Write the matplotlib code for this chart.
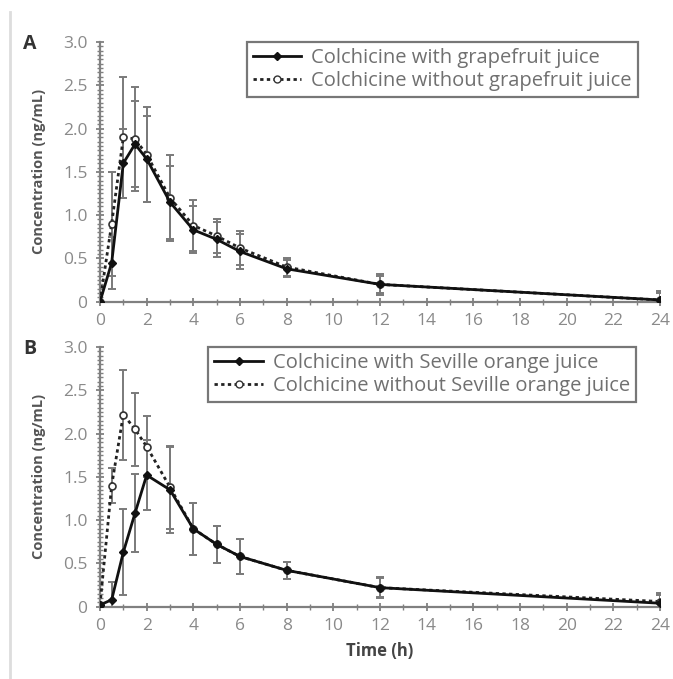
import matplotlib
matplotlib.use("Agg")
import matplotlib.pyplot as plt
from matplotlib.ticker import MultipleLocator, FixedLocator
from matplotlib.lines import Line2D

plt.rcParams['font.family'] = ['Open Sans', 'DejaVu Sans']

times = [0, 0.5, 1, 1.5, 2, 3, 4, 5, 6, 8, 12, 24]

# Panel A
gf_with = [0, 0.45, 1.6, 1.82, 1.65, 1.15, 0.83, 0.72, 0.58, 0.38, 0.2, 0.02]
gf_with_sd = [0, 0.3, 0.4, 0.5, 0.5, 0.42, 0.27, 0.2, 0.2, 0.1, 0.1, 0.08]
gf_without = [0, 0.9, 1.9, 1.88, 1.7, 1.2, 0.88, 0.76, 0.62, 0.4, 0.2, 0.02]
gf_without_sd = [0, 0.6, 0.7, 0.6, 0.55, 0.5, 0.3, 0.2, 0.2, 0.1, 0.12, 0.1]

# Panel B
so_with = [0.02, 0.08, 0.63, 1.08, 1.52, 1.35, 0.9, 0.72, 0.58, 0.42, 0.22, 0.04]
so_with_sd = [0, 0.2, 0.5, 0.45, 0.4, 0.5, 0.3, 0.21, 0.2, 0.1, 0.11, 0.1]
so_without = [0.02, 1.4, 2.22, 2.05, 1.85, 1.38, 0.9, 0.72, 0.58, 0.42, 0.22, 0.06]
so_without_sd = [0, 0.2, 0.52, 0.42, 0.35, 0.48, 0.3, 0.21, 0.2, 0.1, 0.12, 0.1]

labels_a = ["Colchicine with grapefruit juice", "Colchicine without grapefruit juice"]
labels_b = ["Colchicine with Seville orange juice", "Colchicine without Seville orange juice"]

xticks = list(range(0, 25, 2))
yticks = [0, 0.5, 1.0, 1.5, 2.0, 2.5, 3.0]
ytick_labels = ["0", "0.5", "1.0", "1.5", "2.0", "2.5", "3.0"]

W, H = 673, 679
fig = plt.figure(figsize=(W / 100, H / 100), dpi=100)

gray = "#808080"
txt = "#8a8a8a"

def px(x0, y0, x1, y1):
    return [x0 / W, 1 - y1 / H, (x1 - x0) / W, (y1 - y0) / H]

def panel(rect, y1, s1, y2, s2, labels, legend_bbox):
    ax = fig.add_axes(rect)
    ax.errorbar(times, y2, yerr=s2, fmt='none', ecolor="#7a7a7a", elinewidth=1.4,
                capsize=3, capthick=1.4, zorder=2)
    ax.errorbar(times, y1, yerr=s1, fmt='none', ecolor="#7a7a7a", elinewidth=1.4,
                capsize=3, capthick=1.4, zorder=2)
    ax.plot(times, y2, linestyle=(0, (1.2, 1.2)), color="#222222", lw=2,
            marker='o', ms=5, mfc='white', mec="#333333", mew=1.2, zorder=3)
    ax.plot(times, y1, linestyle='-', color="#111111", lw=2,
            marker='D', ms=4, mfc="#111111", mec="#111111", zorder=4)
    ax.set_xlim(0, 24)
    ax.set_ylim(0, 3.0)
    ax.xaxis.set_major_locator(FixedLocator(xticks))
    ax.xaxis.set_minor_locator(MultipleLocator(1))
    ax.yaxis.set_major_locator(FixedLocator(yticks))
    ax.yaxis.set_minor_locator(MultipleLocator(0.05))
    ax.set_yticklabels(ytick_labels)
    ax.set_xticklabels([str(t) for t in xticks])
    for s in ['top', 'right']:
        ax.spines[s].set_visible(False)
    for s in ['left', 'bottom']:
        ax.spines[s].set_color(gray)
        ax.spines[s].set_linewidth(1.6)
    ax.tick_params(which='major', direction='inout', length=6, width=1.3, color=gray,
                   labelcolor=txt, labelsize=12.5)
    ax.tick_params(which='minor', direction='inout', length=4, width=1.0, color=gray)
    ax.tick_params(axis='x', which='major', pad=5)
    ax.tick_params(axis='y', which='major', pad=6)
    ax.set_ylabel("Concentration (ng/mL)", fontsize=10.5, fontweight='bold',
                  color="#555555", labelpad=12)
    handles = [
        Line2D([], [], linestyle='-', color="#111111", lw=2, marker='D', ms=4,
               mfc="#111111"),
        Line2D([], [], linestyle=(0, (1.2, 1.2)), color="#222222", lw=2, marker='o',
               ms=5, mfc='white', mec="#333333"),
    ]
    leg = ax.legend(handles, labels, loc='upper right', bbox_to_anchor=legend_bbox,
                    bbox_transform=fig.transFigure, fontsize=14.5, frameon=True,
                    fancybox=False, edgecolor="#555555", handlelength=2.4,
                    handletextpad=0.5, borderpad=0.3, labelspacing=0.15,
                    borderaxespad=0)
    leg.get_frame().set_linewidth(1.6)
    for t in leg.get_texts():
        t.set_color("#707070")
    return ax

axA = panel(px(100, 42, 660, 301.7), gf_with, gf_with_sd, gf_without, gf_without_sd,
            labels_a, (638 / W, 1 - 42 / H))
axB = panel(px(100, 347, 660, 606.7), so_with, so_with_sd, so_without, so_without_sd,
            labels_b, (636 / W, 1 - 347 / H))
axB.set_xlabel("Time (h)", fontsize=12, fontweight='bold', color="#444444", labelpad=6)

fig.text(30 / W, 1 - 44 / H, "A", fontsize=14, fontweight='bold', color="#333333",
         ha='center', va='center')
fig.text(30 / W, 1 - 349 / H, "B", fontsize=14, fontweight='bold', color="#333333",
         ha='center', va='center')

fig.add_artist(Line2D([10 / W, 10 / W], [0, 1 - 12 / H], transform=fig.transFigure,
                      color="#dddddd", lw=2))

fig.savefig("out.png", dpi=100)
